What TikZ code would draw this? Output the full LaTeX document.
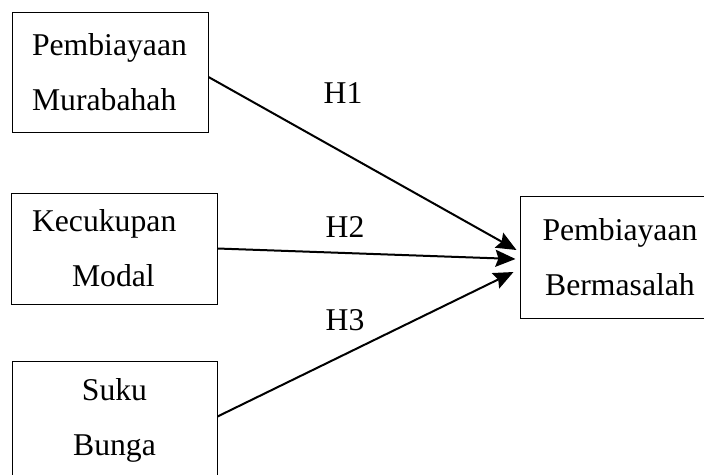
\documentclass[tikz,border=0pt]{standalone}
\usepackage{fontspec}
\setmainfont{Liberation Serif}
\usetikzlibrary{arrows.meta}

\begin{document}
\begin{tikzpicture}[x=1pt,y=-1pt,->,>={Stealth[length=20pt,width=17pt,inset=3pt]},
              line width=2pt,font=\fontsize{31.7}{55}\selectfont,
              var node/.style={draw,line width=1pt,inner sep=0pt,minimum height=120pt}]
            \useasboundingbox (0,0) rectangle (704,474);

            \node[var node,minimum width=196pt,text width=156pt,align=left] (MUR) at (110,72) {Pembiayaan\\Murabahah};
            \node[var node,minimum width=206pt,minimum height=111pt,text width=164pt,align=left] (KM) at (114,248.5) {Kecukupan\\\hspace*{40pt}Modal};
            \node[var node,minimum width=205pt,minimum height=119pt,align=center] (SB) at (114.5,420.5) {Suku\\Bunga};
            \node[var node,minimum width=200pt,minimum height=122pt,align=center] (PB) at (620,257) {Pembiayaan\\Bermasalah};

            \node[anchor=base] (H1) at (343,103) {H1};
            \node[anchor=base] (H2) at (345,237) {H2};
            \node[anchor=base] (H3) at (345,330) {H3};

            \path
            ([yshift=-5pt]MUR.east) edge ([shift={(-3pt,7pt)}]PB.west)
            (KM.east) edge ([shift={(-4pt,-2pt)}]PB.west)
            ([yshift=4pt]SB.east) edge ([shift={(-6pt,-15pt)}]PB.west);

          \end{tikzpicture}
\end{document}
